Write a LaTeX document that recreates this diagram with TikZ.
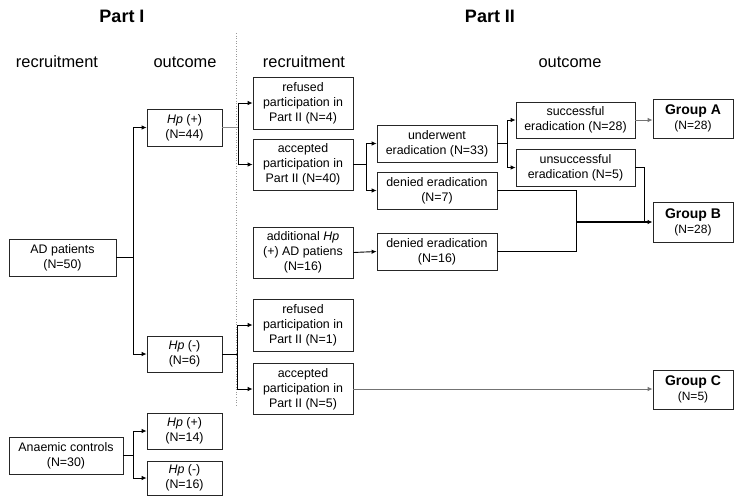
\documentclass[tikz,border=0pt]{standalone}
\usepackage{fontspec}
\setmainfont{Liberation Sans}
\usetikzlibrary{arrows.meta}
\begin{document}
\begin{tikzpicture}[x=1pt,y=-1pt,
  box/.style={draw=black!85,line width=0.8pt,inner sep=0pt,align=center,font=\fontsize{12.4}{15}\selectfont},
  grp/.style={box,font=\fontsize{12}{15}\selectfont},
  head/.style={font=\fontsize{16.4}{18}\selectfont},
  parthead/.style={font=\fontsize{18}{20}\selectfont\bfseries},
  ln/.style={line width=0.9pt,black},
  gln/.style={line width=0.9pt,black!45},
  arr/.style={ln,-{Latex[length=5pt,width=4.5pt]}},
  garr/.style={gln,-{Latex[length=5pt,width=4.5pt]},black!55}]
\useasboundingbox (0,0) rectangle (734,496);
% separator
\draw[black!40,dotted,line width=0.6pt] (236,33) -- (236,405);
% titles
\node[parthead] (p1) at (122,16) {Part I};
\node[parthead] (p2) at (490,16) {Part II};
\node[head] (h1) at (57,62) {recruitment};
\node[head] (h2) at (185,62) {outcome};
\node[head] (h3) at (304,62) {recruitment};
\node[head] (h4) at (570,62) {outcome};
% Part I boxes
\node[box,minimum width=107,minimum height=37] (ad) at (62.5,257.5) {AD patients\\(N=50)};
\node[box,minimum width=114,minimum height=37] (an) at (66,455.5) {Anaemic controls\\(N=30)};
\node[box,minimum width=75,minimum height=37] (hpp) at (184.5,127.5) {\textit{Hp} (+)\\(N=44)};
\node[box,minimum width=75,minimum height=36] (hpm) at (184.5,354) {\textit{Hp} (-)\\(N=6)};
\node[box,minimum width=75,minimum height=36] (hpp14) at (184.5,431) {\textit{Hp} (+)\\(N=14)};
\node[box,minimum width=75,minimum height=34] (hpm16) at (184.5,478) {\textit{Hp} (-)\\(N=16)};
% Part II recruitment
\node[box,minimum width=100,minimum height=52] (ref4) at (303,103) {refused\\participation in\\Part II (N=4)};
\node[box,minimum width=100,minimum height=51] (acc40) at (303,164.5) {accepted\\participation in\\Part II (N=40)};
\node[box,minimum width=100,minimum height=51] (addl) at (303,252.5) {additional \textit{Hp}\\(+) AD patiens\\(N=16)};
\node[box,minimum width=100,minimum height=52] (ref1) at (303,325) {refused\\participation in\\Part II (N=1)};
\node[box,minimum width=100,minimum height=51] (acc5) at (303,389) {accepted\\participation in\\Part II (N=5)};
% Part II outcome
\node[box,minimum width=120,minimum height=37] (und) at (437,143.5) {underwent\\eradication (N=33)};
\node[box,minimum width=120,minimum height=37] (den7) at (437,190.5) {denied eradication\\(N=7)};
\node[box,minimum width=120,minimum height=37] (den16) at (437,251.5) {denied eradication\\(N=16)};
\node[box,minimum width=119,minimum height=36] (succ) at (575.5,120) {successful\\eradication (N=28)};
\node[box,minimum width=119,minimum height=37] (unsucc) at (575.5,167.5) {unsuccessful\\eradication (N=5)};
\node[grp,minimum width=80,minimum height=39] (ga) at (693,118.5) {{\fontsize{14}{16}\selectfont\bfseries Group A}\\(N=28)};
\node[grp,minimum width=80,minimum height=40] (gb) at (693,222) {{\fontsize{14}{16}\selectfont\bfseries Group B}\\(N=28)};
\node[grp,minimum width=80,minimum height=39] (gc) at (693,389.5) {{\fontsize{14}{16}\selectfont\bfseries Group C}\\(N=5)};
% junctions
\coordinate (j1) at (133,257.5);
\coordinate (j2) at (133,455.5);
\coordinate (j3) at (238,127.5);
\coordinate (j4) at (237,354);
\coordinate (j5) at (366,164.5);
\coordinate (j6) at (507,143.5);
\coordinate (m) at (576,222);
\coordinate (j8) at (644,222);
% connectors Part I
\draw[ln] (ad.east) -- (j1);
\draw[arr] (j1) |- (hpp.west);
\draw[arr] (j1) |- (hpm.west);
\draw[ln] (an.east) -- (j2);
\draw[arr] (j2) |- (hpp14.west);
\draw[arr] (j2) |- (hpm16.west);
% to Part II
\draw[gln] (hpp.east) -- (j3);
\draw[arr] (j3) |- (ref4.west);
\draw[arr] (j3) |- (acc40.west);
\draw[ln] (hpm.east) -- (j4);
\draw[arr] (j4) |- (ref1.west);
\draw[arr] (j4) |- (acc5.west);
\draw[ln] (acc40.east) -- (j5);
\draw[arr] (j5) |- (und.west);
\draw[arr] (j5) |- (den7.west);
\draw[arr] (addl.east) -- (den16.west);
\draw[ln] (und.east) -- (j6);
\draw[arr] (j6) |- (succ.west);
\draw[arr] (j6) |- (unsucc.west);
\draw[garr] (succ.east) -- (succ.east -| ga.west);
\draw[ln] (den7.east) -| (m);
\draw[ln] (den16.east) -| (m);
\draw[ln] (unsucc.east) -| (j8);
\draw[arr,line width=1.3pt] (m) -- (gb.west);
\draw[garr] (acc5.east) -- (acc5.east -| gc.west);
\end{tikzpicture}
\end{document}
